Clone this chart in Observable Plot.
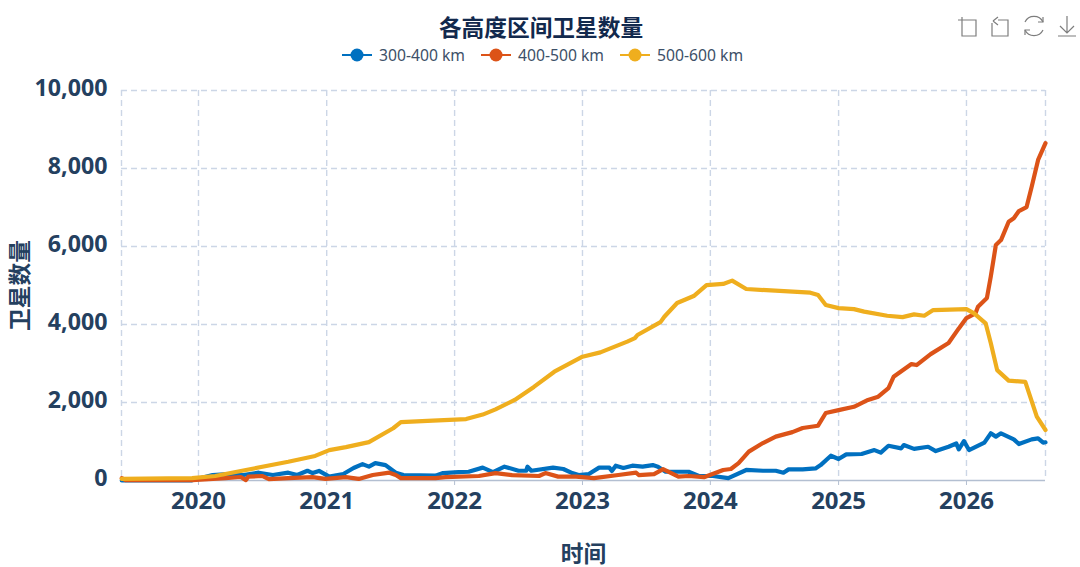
<!DOCTYPE html>
<html lang="zh">
<head>
<meta charset="utf-8">
<script src="https://cdn.jsdelivr.net/npm/d3@7"></script>
<script src="https://cdn.jsdelivr.net/npm/@observablehq/plot@0.6"></script>
<style>
html,body{margin:0;padding:0;background:#fff;width:1080px;height:567px;overflow:hidden}
body{font-family:"Noto Sans","Noto Sans CJK SC",sans-serif;position:relative}
#head{position:relative;height:60px;width:1080px}
#title{position:absolute;left:0;width:1082px;top:11px;text-align:center;font:700 22.7px "Noto Sans CJK SC",sans-serif;color:#12294d;line-height:32px}
#legend{position:absolute;top:44.5px;left:342px;display:flex;font-size:15.7px;line-height:20px;color:#3d5068;z-index:2}
.item{display:flex;align-items:center;height:20px}
.item svg{margin-right:7px}
#tools{position:absolute;left:950px;top:10px;z-index:2}
#chart svg{display:block}
</style>
</head>
<body>
<div id="head">
  <div id="title">各高度区间卫星数量</div>
  <div id="legend"></div>
  <svg id="tools" width="130" height="34" viewBox="950 10 130 34" fill="none" stroke="#7d7d7d" stroke-width="1.2">
    <path d="M958 20H976V36H962V17"/>
    <path d="M998 20H1008V36H992V23"/>
    <path d="M993 21L998 17M993 21L998 25" />
    <path d="M1025 22A10 10 0 0 1 1043 22M1043 30A10 10 0 0 1 1025 30"/>
    <path d="M1043 17V22H1038M1025 35V30H1030"/>
    <path d="M1067 16V33M1060 26L1067 33L1074 26M1058 36H1076"/>
  </svg>
</div>
<div id="chart"></div>
<script>
const yTicks = [0, 2000, 4000, 6000, 8000, 10000];
const yearTicks = [2020, 2021, 2022, 2023, 2024, 2025, 2026];
const seriesNames = ["300-400 km", "400-500 km", "500-600 km"];
const seriesColors = ["#0070c0", "#dc5318", "#efae1e"];

const blueYears = [2019.40,2019.95,2020.11,2020.23,2020.35,2020.47,2020.58,2020.70,2020.77,2020.85,2020.89,2020.94,2021.02,2021.13,2021.21,2021.28,2021.33,2021.38,2021.46,2021.54,2021.60,2021.85,2021.91,2022.03,2022.11,2022.22,2022.30,2022.39,2022.50,2022.56,2022.57,2022.60,2022.77,2022.85,2022.92,2022.97,2023.05,2023.13,2023.21,2023.23,2023.26,2023.32,2023.39,2023.47,2023.55,2023.59,2023.65,2023.83,2023.91,2024.02,2024.14,2024.28,2024.41,2024.51,2024.57,2024.61,2024.72,2024.82,2024.86,2024.94,2025.00,2025.06,2025.18,2025.28,2025.33,2025.39,2025.49,2025.51,2025.59,2025.70,2025.76,2025.86,2025.92,2025.94,2025.98,2026.02,2026.14,2026.19,2026.23,2026.27,2026.37,2026.41,2026.51,2026.56,2026.60,2026.618];
const blueValues = [0,5,140,165,140,200,140,200,140,250,190,245,100,165,320,420,355,445,395,200,140,125,190,215,225,330,215,355,250,250,355,250,330,295,190,140,165,330,330,245,380,320,380,355,395,355,225,225,115,115,60,270,250,250,200,285,285,310,395,635,550,670,680,780,715,890,825,910,810,865,755,865,950,800,1010,780,970,1210,1125,1210,1055,935,1055,1080,970,980];

const orangeYears = [2019.40,2019.43,2019.95,2020.21,2020.33,2020.37,2020.39,2020.50,2020.55,2020.70,2020.89,2020.99,2021.15,2021.25,2021.36,2021.49,2021.54,2021.58,2021.85,2021.93,2022.19,2022.32,2022.45,2022.66,2022.71,2022.81,2022.95,2023.09,2023.28,2023.42,2023.44,2023.56,2023.63,2023.75,2023.83,2023.95,2024.10,2024.16,2024.22,2024.30,2024.41,2024.51,2024.64,2024.72,2024.84,2024.90,2025.00,2025.12,2025.23,2025.31,2025.39,2025.43,2025.57,2025.61,2025.72,2025.86,2025.94,2026.00,2026.07,2026.09,2026.16,2026.19,2026.23,2026.27,2026.33,2026.37,2026.41,2026.47,2026.51,2026.56,2026.618];
const orangeValues = [60,10,10,60,90,10,100,115,35,60,85,40,85,40,140,200,140,60,60,85,115,190,140,115,190,100,100,60,140,200,140,165,290,100,115,85,270,295,445,740,960,1125,1240,1345,1405,1730,1805,1890,2065,2150,2370,2660,2985,2960,3240,3525,3900,4165,4285,4455,4680,5225,6040,6165,6635,6725,6910,7010,7530,8220,8650];

const yellowYears = [2019.40,2019.95,2020.13,2020.37,2020.70,2020.91,2021.02,2021.15,2021.33,2021.52,2021.58,2021.83,2022.09,2022.22,2022.32,2022.47,2022.62,2022.78,2023.00,2023.14,2023.35,2023.41,2023.43,2023.61,2023.64,2023.74,2023.87,2023.97,2024.10,2024.17,2024.28,2024.78,2024.84,2024.90,2025.00,2025.12,2025.20,2025.38,2025.50,2025.59,2025.67,2025.74,2026.00,2026.06,2026.15,2026.19,2026.24,2026.33,2026.46,2026.55,2026.618];
const yellowValues = [40,60,115,270,480,630,780,855,985,1340,1495,1535,1575,1690,1825,2065,2400,2790,3175,3285,3560,3650,3730,4060,4200,4550,4730,5010,5040,5125,4910,4815,4755,4500,4420,4395,4330,4225,4190,4260,4225,4370,4395,4285,4030,3525,2830,2560,2530,1640,1295];

const toDate = y => {
  const yr = Math.floor(y), a = Date.UTC(yr, 0, 1), b = Date.UTC(yr + 1, 0, 1);
  return new Date(a + (y - yr) * (b - a));
};
const table = (years, values, name) => years.map((y, i) => ({date: toDate(y), value: values[i], name}));
const rows = [
  ...table(blueYears, blueValues, seriesNames[0]),
  ...table(orangeYears, orangeValues, seriesNames[1]),
  ...table(yellowYears, yellowValues, seriesNames[2])
];

const legend = document.getElementById("legend");
seriesNames.forEach((n, i) => {
  const d = document.createElement("div");
  d.className = "item";
  d.style.marginRight = i < 2 ? "16px" : "0";
  d.innerHTML = `<svg width="30" height="14"><line x1="0" x2="30" y1="7" y2="7" stroke="${seriesColors[i]}" stroke-width="2"/><circle cx="15" cy="7" r="6.5" fill="${seriesColors[i]}"/></svg><span>${n}</span>`;
  legend.appendChild(d);
});

const gridColor = "#ccd6e6";
const tickColor = "#24405f";
const years = yearTicks.map(toDate);
const domain = [toDate(2019.398), toDate(2026.618)];

const plot = Plot.plot({
  width: 1080,
  height: 507,
  marginTop: 30,
  marginBottom: 87,
  marginLeft: 121,
  marginRight: 35,
  style: {fontFamily: '"Noto Sans","Noto Sans CJK SC",sans-serif', background: "transparent"},
  x: {type: "utc", domain},
  y: {domain: [0, 10000]},
  color: {domain: seriesNames, range: seriesColors},
  marks: [
    Plot.ruleY(yTicks.slice(1), {stroke: gridColor, strokeWidth: 1.4, strokeDasharray: "6 4"}),
    Plot.ruleX([...years, ...domain], {stroke: gridColor, strokeWidth: 1.4, strokeDasharray: "6 4"}),
    Plot.ruleY([0], {stroke: "#b3bfd1", strokeWidth: 1.5}),
    Plot.axisY({ticks: yTicks, tickSize: 0, tickPadding: 14, dy: -1.5, tickFormat: d3.format(","), fontSize: 23.2, fontWeight: 700, fill: tickColor, label: null}),
    Plot.axisX({ticks: years, tickSize: 5, tickPadding: 6, stroke: "#b3bfd1", tickFormat: d3.utcFormat("%Y"), fontSize: 24, fontWeight: 700, fill: tickColor, label: null}),
    Plot.line(rows, {x: "date", y: "value", z: "name", stroke: "name", strokeWidth: 4.2, curve: "linear"}),
    Plot.text(["时间"], {frameAnchor: "bottom", dy: 81, fontSize: 22.7, fontWeight: 700, fill: tickColor, fontFamily: '"Noto Sans CJK SC"'}),
    Plot.text(["卫星数量"], {frameAnchor: "left", textAnchor: "middle", dx: -101, rotate: -90, fontSize: 22.7, fontWeight: 700, fill: tickColor, fontFamily: '"Noto Sans CJK SC"'})
  ]
});
document.getElementById("chart").appendChild(plot);
</script>
</body>
</html>
